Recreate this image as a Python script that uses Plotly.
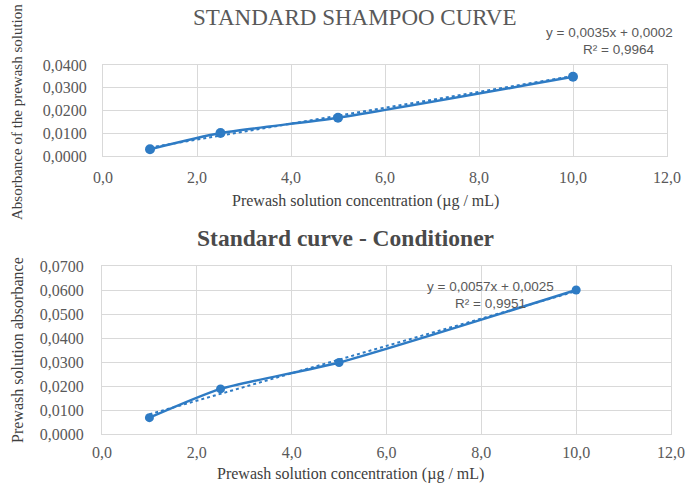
import plotly.graph_objects as go

# ---- data ----
conc = [1.0, 2.5, 5.0, 10.0]
shampoo_abs = [0.0030, 0.0101, 0.0168, 0.0348]
conditioner_abs = [0.0068, 0.0188, 0.0298, 0.0600]

shampoo_slope, shampoo_intercept = 0.0035, 0.0002
cond_slope, cond_intercept = 0.0057, 0.0025

x_ticks = [0, 2, 4, 6, 8, 10, 12]
x_tick_labels = ["0,0", "2,0", "4,0", "6,0", "8,0", "10,0", "12,0"]
y1_ticks = [0, 0.01, 0.02, 0.03, 0.04]
y1_tick_labels = ["0,0000", "0,0100", "0,0200", "0,0300", "0,0400"]
y2_ticks = [0, 0.01, 0.02, 0.03, 0.04, 0.05, 0.06, 0.07]
y2_tick_labels = ["0,0000", "0,0100", "0,0200", "0,0300", "0,0400", "0,0500", "0,0600", "0,0700"]

BLUE = "#2E7BC4"
GRID = "#d9d9d9"
TXT = "#595959"
SERIF = "Liberation Serif, Times New Roman, serif"
SANS = "Liberation Sans, Arial, sans-serif"

W, H = 686, 485

def py(p):
    return 1 - p / H

fig = go.Figure()

trend_x = [min(conc), max(conc)]

fig.add_trace(go.Scatter(x=trend_x, y=[shampoo_slope * v + shampoo_intercept for v in trend_x],
                         mode="lines", line=dict(color=BLUE, width=2, dash="dot"),
                         xaxis="x", yaxis="y", showlegend=False, hoverinfo="skip"))
fig.add_trace(go.Scatter(x=conc, y=shampoo_abs, mode="lines+markers",
                         line=dict(color=BLUE, width=2.5, shape="spline", smoothing=0.6),
                         marker=dict(color=BLUE, size=10),
                         xaxis="x", yaxis="y", showlegend=False))

fig.add_trace(go.Scatter(x=trend_x, y=[cond_slope * v + cond_intercept for v in trend_x],
                         mode="lines", line=dict(color=BLUE, width=2, dash="dot"),
                         xaxis="x2", yaxis="y2", showlegend=False, hoverinfo="skip"))
fig.add_trace(go.Scatter(x=conc, y=conditioner_abs, mode="lines+markers",
                         line=dict(color=BLUE, width=2.5, shape="spline", smoothing=0.6),
                         marker=dict(color=BLUE, size=9),
                         xaxis="x2", yaxis="y2", showlegend=False))

axis_common = dict(showgrid=True, gridcolor=GRID, gridwidth=1, zeroline=False,
                   showline=True, linecolor=GRID, mirror=True, ticks="", automargin=False,
                   tickfont=dict(family=SERIF, size=16, color=TXT))

fig.update_layout(
    width=W, height=H, autosize=False,
    margin=dict(l=0, r=0, t=0, b=0, pad=0, autoexpand=False),
    paper_bgcolor="white", plot_bgcolor="white",
    xaxis=dict(domain=[103 / W, 667 / W], range=[0, 12], tickvals=x_ticks, ticktext=x_tick_labels,
               anchor="y", ticklabelstandoff=7, **axis_common),
    yaxis=dict(domain=[py(156), py(65)], range=[0, 0.04], tickvals=y1_ticks, ticktext=y1_tick_labels,
               anchor="x", ticklabelstandoff=12, **axis_common),
    xaxis2=dict(domain=[102 / W, 671 / W], range=[0, 12], tickvals=x_ticks, ticktext=x_tick_labels,
                anchor="y2", ticklabelstandoff=4, **axis_common),
    yaxis2=dict(domain=[py(434), py(266)], range=[0, 0.07], tickvals=y2_ticks, ticktext=y2_tick_labels,
                anchor="x2", ticklabelstandoff=14, **axis_common),
)

def note(text, x, y, size, family=SERIF, color="#404040", angle=0):
    return dict(text=text, x=x / W, y=py(y), xref="paper", yref="paper",
                xanchor="center", yanchor="middle", textangle=angle, showarrow=False,
                font=dict(family=family, size=size, color=color))

ann = [
    note("STANDARD SHAMPOO CURVE", 354, 18, 23, color=TXT),
    note("<b>Standard curve - Conditioner</b>", 345, 238, 23.5, color="#4a4a4a"),
    note("Prewash solution concentration (µg / mL)", 365, 201, 16),
    note("Prewash solution concentration (µg / mL)", 350, 474, 16),
    note("Absorbance of the prewash solution", 17, 112, 15, angle=-90),
    note("Prewash solution absorbance", 17, 350, 16, angle=-90),
    note("y = 0,0035x + 0,0002", 609, 33, 13.5, family=SANS, color=TXT),
    note("R² = 0,9964", 618, 50, 13.5, family=SANS, color=TXT),
    note("y = 0,0057x + 0,0025", 490, 286, 13.5, family=SANS, color=TXT),
    note("R² = 0,9951", 490, 303, 13.5, family=SANS, color=TXT),
]
fig.update_layout(annotations=ann)

fig.write_html("out.html", config={"displayModeBar": False},
               post_script="document.body.style.margin='0';document.body.style.padding='0';document.body.style.overflow='hidden';")
